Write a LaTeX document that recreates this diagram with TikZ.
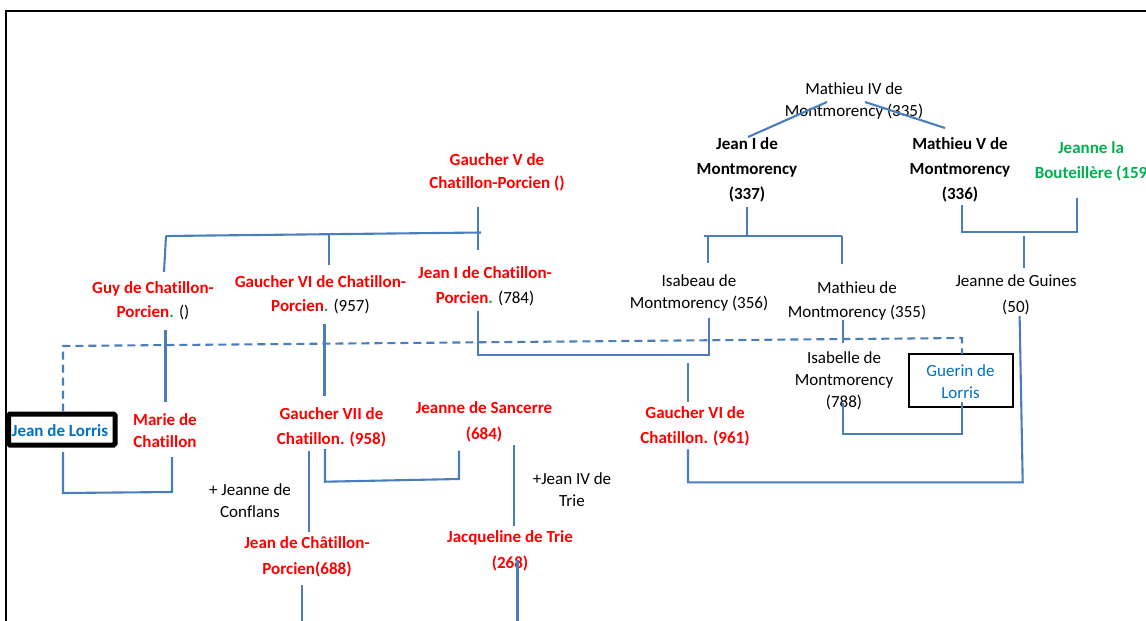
\documentclass[tikz,border=0pt]{standalone}
\usepackage{fontspec}
\setmainfont{Carlito}[Ligatures={NoCommon}]
\definecolor{lineblue}{HTML}{4A7EBB}
\definecolor{tred}{HTML}{FF0000}
\definecolor{tgreen}{HTML}{00B050}
\definecolor{tblue}{HTML}{0070C0}
\begin{document}
\begin{tikzpicture}[x=1pt,y=-1pt,
  every node/.style={inner sep=0pt, outer sep=0pt, align=center, anchor=base},
  reg/.style={font=\fontsize{17}{#1}\selectfont, text=black},
  reg/.default=22,
  bld/.style={font=\fontsize{17}{#1}\selectfont\bfseries, text=tred},
  bld/.default=25,
  conn/.style={draw=lineblue, line width=2.1pt},
  dconn/.style={conn, dash pattern=on 8pt off 5pt},
]
\useasboundingbox (0,0) rectangle (1146,621);
% frame
\draw[line width=2pt] (6,640) -- (6,11) -- (1160,11);

% ---------- people (anchor = baseline of last line) ----------
\node[reg] (m4) at (854,116) {Mathieu IV de\\Montmorency (335)};
\node[bld=25, text=black] (j1m) at (747,199.5) {Jean I de\\Montmorency\\(337)};
\node[bld=25, text=black] (m5) at (960,199.5) {Mathieu V de\\Montmorency\\(336)};
\node[bld=25, text=tgreen] (jlb) at (1091,178) {Jeanne la\\Bouteillère (159};
\node[bld=23] (gv) at (497,188.5) {Gaucher V de\\Chatillon-Porcien ()};
\node[bld=24] (guy) at (153,317.5) {Guy de Chatillon-\\Porcien\textcolor{tgreen}{.} \textcolor{black}{\mdseries ()}};
\node[bld=24] (g6) at (320.5,311.5) {Gaucher VI de Chatillon-\\Porcien\textcolor{tgreen}{.} \textcolor{black}{\mdseries (957)}};
\node[bld=25] (j1cp) at (485,303.5) {Jean I de Chatillon-\\Porcien\textcolor{tgreen}{.} \textcolor{black}{\mdseries (784)}};
\node[reg=22.5] (isab) at (699,308.5) {Isabeau de\\Montmorency (356)};
\node[reg=23.5] (mdm) at (857,317) {Mathieu de\\Montmorency (355)};
\node[reg=26] (jdg) at (1016,312.5) {Jeanne de Guines\\(50)};
\node[reg=22.3] (isl) at (844,407.6) {Isabelle de\\Montmorency\\(788)};
\node[reg=22, text=tblue] (gl) at (960.5,398) {Guerin de\\Lorris};
\draw[line width=1.5pt] (909,354) rectangle (1013,407);
\node[bld=24.5] (g6b) at (695,443.3) {Gaucher VI de\\Chatillon. (961)};
\node[bld=22] (marie) at (165,447.5) {Marie de\\Chatillon};
\node[bld, text=tblue] (jdl) at (60,436) {Jean de Lorris};
\draw[line width=5pt, rounded corners=1.5pt] (8.5,414) rectangle (115,445);
\node[bld=25] (g7) at (331.5,444.5) {Gaucher VII de\\Chatillon. (958)};
\node[bld=26] (jsan) at (484,439.5) {Jeanne de Sancerre\\(684)};
\node[reg=21.7] (conf) at (250,517.2) {+ Jeanne de\\Conflans};
\node[reg=21.7] (trie) at (572,506.2) {+Jean IV de\\Trie};
\node[bld=26] (jcp) at (307,574.5) {Jean de Châtillon-\\Porcien(688)};
\node[bld=26] (jac) at (510,568.5) {Jacqueline de Trie\\(268)};

% ---------- connector end points ----------
\coordinate (m4a) at (827,102);  \coordinate (j1mt) at (748,137);
\coordinate (m4b) at (865,102);  \coordinate (m5t) at (945,128);
\coordinate (j1mb) at (747,207); \coordinate (j1mbar) at (747,236);
\coordinate (barL) at (704,236); \coordinate (barR) at (842,236);
\coordinate (isabt) at (708,236); \coordinate (isabt2) at (708,263);
\coordinate (mdmt2) at (842,264);
\coordinate (m5b) at (962,205); \coordinate (m5bar) at (962,232);
\coordinate (jlbb) at (1077,198); \coordinate (jlbbar) at (1077,232);
\coordinate (jdgt) at (1024,236); \coordinate (jdgt2) at (1024,268);
\coordinate (gvb) at (478,206.7); \coordinate (gvb2) at (478,250);
\coordinate (gbarL) at (166,236); \coordinate (gbarR) at (481,232.5);
\coordinate (guyt) at (164,272);
\coordinate (g6t1) at (329,232.7); \coordinate (g6t2) at (329,265);
\coordinate (guyb) at (165.5,330); \coordinate (marit) at (165.5,402);
\coordinate (g6bo) at (324.5,324); \coordinate (g7t) at (324.5,396);
\coordinate (j1cpb) at (478,311); \coordinate (j1cpc) at (478,355);
\coordinate (isabb) at (708.6,318); \coordinate (isabc) at (708.6,355);
\coordinate (g6bt) at (688,363); \coordinate (g6bt2) at (688,401.7);
\coordinate (g6bb) at (688,449.3); \coordinate (g6bc) at (688,482.3);
\coordinate (jdgb) at (1019.6,316); \coordinate (jdgc) at (1022.7,482.3);
\coordinate (mdmb) at (842.7,320); \coordinate (islt) at (842.7,343);
\coordinate (islb) at (843,403.3); \coordinate (islc) at (843,434.3);
\coordinate (glc) at (962,434.3); \coordinate (glb) at (962,401.7);
\coordinate (jdlt) at (63,411.7); \coordinate (jdlc) at (63,346);
\coordinate (gltc) at (962,338); \coordinate (glt) at (962,354);
\coordinate (jdlb) at (63,452); \coordinate (jdlbc) at (63,493);
\coordinate (maribc) at (172,492); \coordinate (marib) at (172,457);
\coordinate (g7b) at (325,449); \coordinate (g7bc) at (325,481.7);
\coordinate (jsanbc) at (459,479); \coordinate (jsanb) at (459,450.7);
\coordinate (g7b2) at (309,450.7); \coordinate (jcpt) at (309,531.7);
\coordinate (jcpb) at (302,585); \coordinate (jcpb2) at (302,623);
\coordinate (jsanb2) at (514,445); \coordinate (jact) at (514,526);
\coordinate (jacb) at (517.5,560); \coordinate (jacb2) at (517.5,623);

% ---------- connectors ----------
\draw[conn] (j1mt) -- (m4a);
\draw[conn] (m4b) -- (m5t);
\draw[conn] (j1mb) -- (j1mbar);
\draw[conn] (barL) -- (barR);
\draw[conn] (isabt) -- (isabt2);
\draw[conn] (barR) -- (mdmt2);
\draw[conn] (m5b) -- (m5bar) -- (jlbbar) -- (jlbb);
\draw[conn] (jdgt) -- (jdgt2);
\draw[conn] (gvb) -- (gvb2);
\draw[conn] (gbarL) -- (gbarR);
\draw[conn] (gbarL) -- (guyt);
\draw[conn] (g6t1) -- (g6t2);
\draw[conn] (guyb) -- (marit);
\draw[conn] (g6bo) -- (g7t);
\draw[conn] (j1cpb) -- (j1cpc) -- (isabc) -- (isabb);
\draw[conn] (g6bt) -- (g6bt2);
\draw[conn] (g6bb) -- (g6bc) -- (jdgc) -- (jdgb);
\draw[conn] (mdmb) -- (islt);
\draw[conn] (islb) -- (islc) -- (glc) -- (glb);
\draw[dconn] (jdlt) -- (jdlc) -- (gltc) -- (glt);
\draw[conn] (jdlb) -- (jdlbc) -- (maribc) -- (marib);
\draw[conn] (g7b) -- (g7bc) -- (jsanbc) -- (jsanb);
\draw[conn] (g7b2) -- (jcpt);
\draw[conn] (jcpb) -- (jcpb2);
\draw[conn] (jsanb2) -- (jact);
\draw[conn] (jacb) -- (jacb2);
\end{tikzpicture}
\end{document}
